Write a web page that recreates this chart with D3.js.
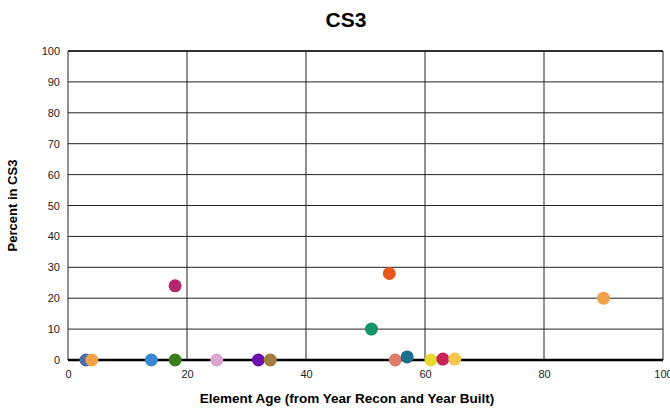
<!DOCTYPE html>
<html>
<head>
<meta charset="utf-8">
<script src="https://cdn.jsdelivr.net/npm/d3@7"></script>
<style>
  body { margin: 0; background: #fff; }
  text { font-family: "Liberation Sans", Arial, sans-serif; }
</style>
</head>
<body>
<div id="chart"></div>
<script>
//chart data: element age vs percent in CS3
var ages     = [3, 4, 14, 18, 25, 32, 34, 18, 54, 51, 55, 57, 61, 63, 65, 90];
var percents = [0, 0, 0, 0, 0, 0, 0, 24, 28, 10, 0, 1, 0, 0.3, 0.3, 20];
var colors   = ["#4a6ea6", "#f3a04a", "#3b88d2", "#3e7d1d", "#dba6cf", "#6a0fae", "#a47c3c", "#b3276c",
                "#e8561c", "#14946b", "#e07b6c", "#1e6f8d", "#e6da2c", "#c9215c", "#f7c74c", "#f3a04a"];
var xTicks = [0, 20, 40, 60, 80, 100];
var yTicks = d3.range(0, 101, 10);

//svg dimensions
var svgWidth = 670;
var svgHeight = 408;
var margin = { top: 51, right: 7, bottom: 48, left: 68 };
var width = svgWidth - margin.left - margin.right;
var height = svgHeight - margin.top - margin.bottom;

var svg = d3.select("#chart")
    .append("svg")
    .attr("width", svgWidth)
    .attr("height", svgHeight);

var chartGroup = svg.append("g")
    .attr("transform", `translate(${margin.left}, ${margin.top})`);

var xScale = d3.scaleLinear().domain([0, 100]).range([0, width]);
var yScale = d3.scaleLinear().domain([0, 100]).range([height, 0]);

//horizontal gridlines
chartGroup.append("g")
    .selectAll("line")
    .data(yTicks)
    .enter()
    .append("line")
    .attr("x1", 0)
    .attr("x2", width)
    .attr("y1", d => yScale(d))
    .attr("y2", d => yScale(d))
    .attr("stroke", "#222")
    .attr("stroke-width", 1);

//vertical gridlines
chartGroup.append("g")
    .selectAll("line")
    .data(xTicks)
    .enter()
    .append("line")
    .attr("x1", d => xScale(d))
    .attr("x2", d => xScale(d))
    .attr("y1", 0)
    .attr("y2", height)
    .attr("stroke", "#222")
    .attr("stroke-width", 1);

//top border slightly heavier
chartGroup.append("line")
    .attr("x1", 0).attr("x2", width)
    .attr("y1", 0).attr("y2", 0)
    .attr("stroke", "#111")
    .attr("stroke-width", 1.5);

//y axis
var leftAxis = d3.axisLeft(yScale).tickValues(yTicks).tickSize(0).tickPadding(8);
chartGroup.append("g")
    .call(leftAxis)
    .call(g => g.select(".domain").remove())
    .selectAll("text")
    .attr("font-size", "11px")
    .attr("fill", "#222");

//x axis
var bottomAxis = d3.axisBottom(xScale).tickValues(xTicks).tickSize(0).tickPadding(10);
chartGroup.append("g")
    .attr("transform", `translate(0, ${height})`)
    .call(bottomAxis)
    .call(g => g.select(".domain").remove())
    .selectAll("text")
    .attr("font-size", "11px")
    .attr("fill", "#222");

//thick baseline
chartGroup.append("line")
    .attr("x1", 0).attr("x2", width)
    .attr("y1", height).attr("y2", height)
    .attr("stroke", "#000")
    .attr("stroke-width", 2.5);

//points
var points = ages.map((a, i) => ({ age: a, pct: percents[i], color: colors[i] }));
chartGroup.selectAll("circle")
    .data(points)
    .enter()
    .append("circle")
    .attr("cx", d => xScale(d.age))
    .attr("cy", d => yScale(d.pct))
    .attr("r", 6.5)
    .attr("fill", d => d.color);

//title
svg.append("text")
    .attr("x", 346)
    .attr("y", 27)
    .attr("text-anchor", "middle")
    .attr("font-size", "21px")
    .style("font-weight", "bold")
    .text("CS3");

//x label
svg.append("text")
    .attr("x", 347)
    .attr("y", 403)
    .attr("text-anchor", "middle")
    .attr("font-size", "13.5px")
    .style("font-weight", "bold")
    .text("Element Age (from Year Recon and Year Built)");

//y label
svg.append("text")
    .attr("transform", "rotate(-90)")
    .attr("x", -(margin.top + height / 2))
    .attr("y", 17)
    .attr("text-anchor", "middle")
    .attr("font-size", "13px")
    .style("font-weight", "bold")
    .text("Percent in CS3");
</script>
</body>
</html>
